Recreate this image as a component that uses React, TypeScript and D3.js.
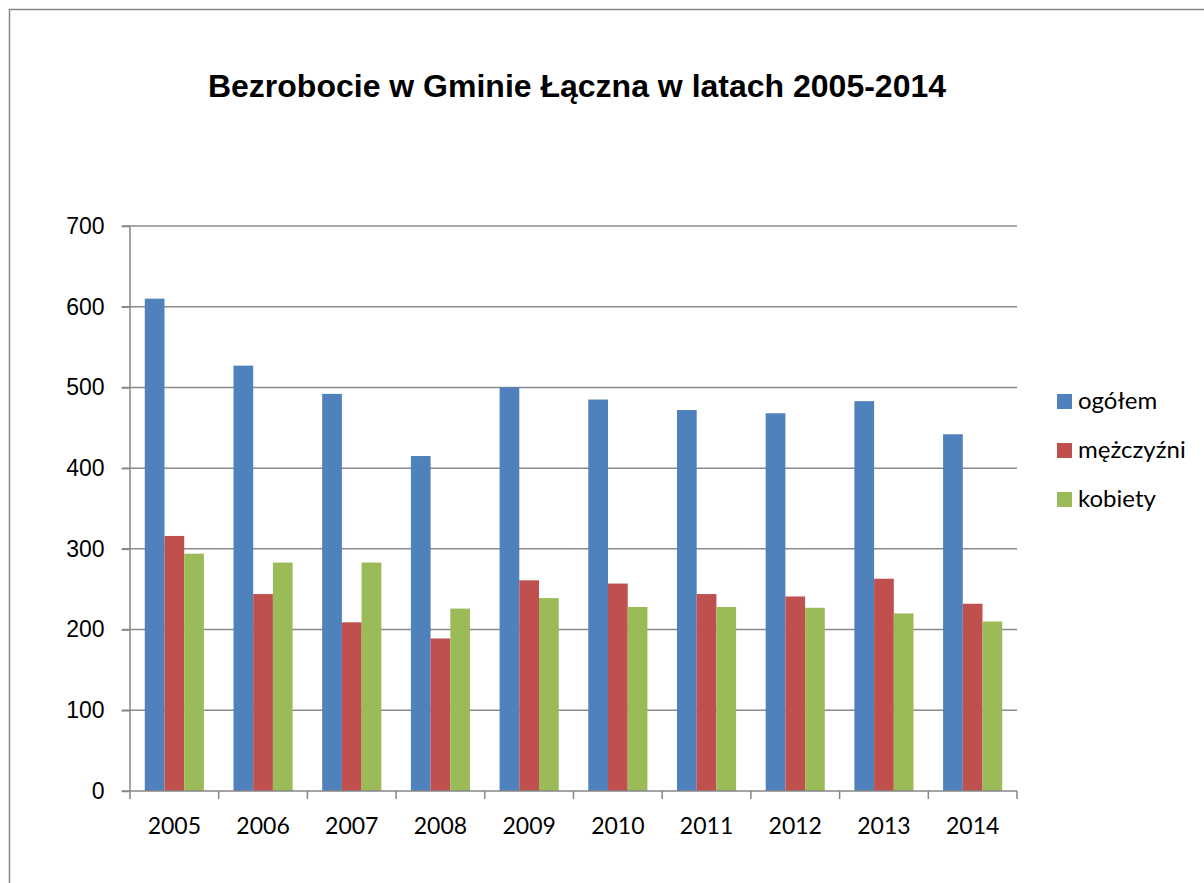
import * as d3 from 'd3';
import { useEffect, useRef } from 'react';

// Data
const years = ['2005', '2006', '2007', '2008', '2009', '2010', '2011', '2012', '2013', '2014'];
const seriesNames = ['ogółem', 'mężczyźni', 'kobiety'];
const ogolem = [610, 527, 492, 415, 500, 485, 472, 468, 483, 442];
const mezczyzni = [316, 244, 209, 189, 261, 257, 244, 241, 263, 232];
const kobiety = [294, 283, 283, 226, 239, 228, 228, 227, 220, 210];
const yTicks = [0, 100, 200, 300, 400, 500, 600, 700];
const colors = ['#4F81BD', '#C0504D', '#9BBB59'];

export default function App() {
  const chartRef = useRef<SVGSVGElement>(null);

  const width = 1204;
  const height = 883;
  const plot = { left: 130, right: 1017, top: 226, bottom: 791 };

  useEffect(() => {
    const svg = d3.select(chartRef.current);
    svg.selectAll('*').remove();

    const values = [ogolem, mezczyzni, kobiety];

    // outer border of the chart area
    svg
      .append('rect')
      .attr('x', 9.5)
      .attr('y', 9.5)
      .attr('width', width + 20)
      .attr('height', height + 20)
      .attr('fill', 'white')
      .attr('stroke', '#868686')
      .attr('stroke-width', 1.5);

    // title
    svg
      .append('text')
      .text('Bezrobocie w Gminie Łączna w latach 2005-2014')
      .attr('x', 577)
      .attr('y', 97)
      .attr('text-anchor', 'middle')
      .style('font-family', '"Liberation Sans", Arial, sans-serif')
      .style('font-weight', 'bold')
      .style('font-size', '32px');

    const xScale = d3
      .scaleBand()
      .domain(years)
      .range([plot.left, plot.right])
      .padding(0);
    const bw = xScale.bandwidth();
    const gap = (bw / 4.5) * 0.75;
    const x1 = d3
      .scaleBand()
      .domain(seriesNames)
      .range([gap, bw - gap])
      .padding(0);

    const yScale = d3
      .scaleLinear()
      .domain([0, 700])
      .range([plot.bottom, plot.top]);

    // gridlines
    svg
      .append('g')
      .selectAll('line')
      .data(yTicks.slice(1))
      .enter()
      .append('line')
      .attr('x1', plot.left - 8)
      .attr('x2', plot.right)
      .attr('y1', (d) => yScale(d))
      .attr('y2', (d) => yScale(d))
      .attr('stroke', '#8a8a8a')
      .attr('stroke-width', 1.5);

    // y axis
    const yAxis = d3
      .axisLeft(yScale)
      .tickValues(yTicks)
      .tickSize(8)
      .tickSizeOuter(0)
      .tickPadding(17);
    const gy = svg
      .append('g')
      .attr('transform', `translate(${plot.left - 0.5},0)`)
      .call(yAxis);
    gy.selectAll('line').attr('stroke', '#868686').attr('stroke-width', 1.5);
    gy.select('.domain').attr('stroke', '#868686').attr('stroke-width', 1.5);
    gy.selectAll('text')
      .attr('fill', '#000')
      .style('font-family', '"Liberation Sans", Arial, sans-serif')
      .style('font-size', '23px');

    // bars
    years.forEach((year, i) => {
      svg
        .append('g')
        .selectAll('rect')
        .data(seriesNames)
        .enter()
        .append('rect')
        .attr('x', (s) => (xScale(year) as number) + (x1(s) as number))
        .attr('width', x1.bandwidth())
        .attr('y', (s, j) => yScale(values[j][i]))
        .attr('height', (s, j) => yScale(0) - yScale(values[j][i]))
        .attr('fill', (s, j) => colors[j]);
    });

    // x axis
    const xAxis = d3.axisBottom(xScale).tickSize(0).tickPadding(0);
    const gx = svg
      .append('g')
      .attr('transform', `translate(0,${plot.bottom})`)
      .call(xAxis);
    gx.select('.domain').remove();
    gx.append('line')
      .attr('x1', plot.left - 8)
      .attr('x2', plot.right)
      .attr('stroke', '#868686')
      .attr('stroke-width', 1.5);
    gx.selectAll('.tickmark')
      .data([...years.map((y) => xScale(y) as number), plot.right])
      .enter()
      .append('line')
      .attr('class', 'tickmark')
      .attr('x1', (d) => d)
      .attr('x2', (d) => d)
      .attr('y1', 0)
      .attr('y2', 8)
      .attr('stroke', '#868686')
      .attr('stroke-width', 1.5);
    gx.selectAll('.tick text')
      .attr('y', 43)
      .attr('dy', 0)
      .attr('fill', '#000')
      .style('font-family', 'Lato, "Open Sans", sans-serif')
      .style('font-size', '23px');

    // legend
    const legend = svg
      .selectAll('.legend')
      .data(seriesNames)
      .enter()
      .append('g')
      .attr('class', 'legend')
      .attr('transform', (d, i) => `translate(1057, ${394 + i * 49})`);
    legend
      .append('rect')
      .attr('width', 15)
      .attr('height', 15)
      .attr('fill', (d, i) => colors[i]);
    legend
      .append('text')
      .text((d) => d)
      .attr('x', 21)
      .attr('y', 15)
      .style('font-family', 'Lato, "Open Sans", sans-serif')
      .style('font-size', '24px');
  }, []);

  return (
    <svg
      ref={chartRef}
      width={width}
      height={height}
      style={{ position: 'absolute', left: 0, top: 0, background: 'white' }}
    />
  );
}
